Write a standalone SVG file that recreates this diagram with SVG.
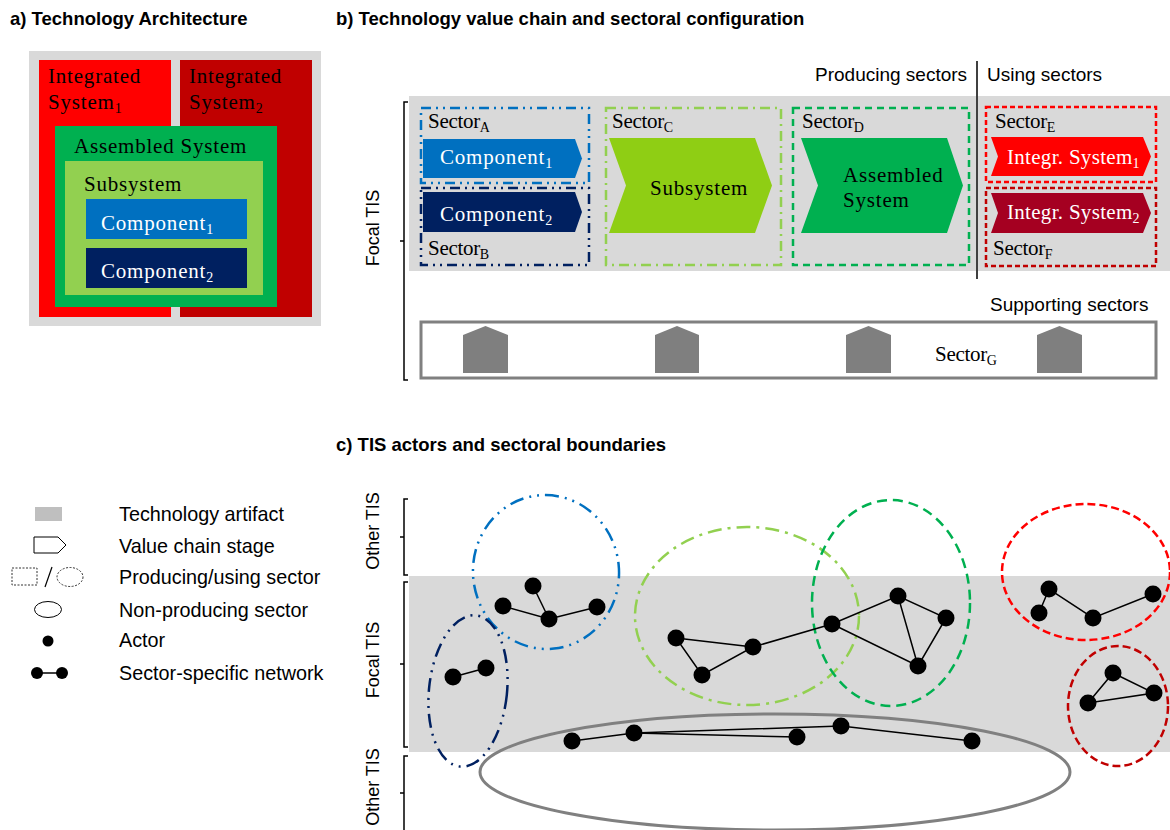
<svg xmlns="http://www.w3.org/2000/svg" width="1170" height="830" viewBox="0 0 1170 830">
<style>
.title{font-family:"Liberation Sans",Arial,sans-serif;font-weight:bold;font-size:18.5px;fill:#000}
.sans{font-family:"Liberation Sans",Arial,sans-serif;font-size:19px;fill:#000}
.leg{font-size:19.8px}
.vt{font-size:18px}
.serif{font-family:"Liberation Serif","Times New Roman",serif;font-size:21px;fill:#000;letter-spacing:0.8px}
.sec{letter-spacing:-0.3px}
.w{fill:#fff}
.sub{font-size:14px;letter-spacing:0}
.brk{fill:none;stroke:#000;stroke-width:1.5}
.edge{stroke:#000;stroke-width:1.5;fill:none}
.actor{fill:#000}
.house{fill:#7f7f7f}
</style>
<rect width="1170" height="830" fill="#fff"/>

<!-- Panel a -->
<g id="panel-a">
<text class="title" x="10" y="25">a) Technology Architecture</text>
<rect x="29" y="51" width="292" height="275" fill="#d9d9d9"/>
<g id="integrated-system-1"><rect x="39" y="60" width="132" height="257" fill="#ff0000"/>
<text class="serif" x="48" y="83">Integrated</text>
<text class="serif" x="48" y="109">System<tspan class="sub" dy="4">1</tspan></text></g>
<g id="integrated-system-2"><rect x="180" y="60" width="132" height="257" fill="#c00000"/>
<text class="serif" x="189" y="83">Integrated</text>
<text class="serif" x="189" y="109">System<tspan class="sub" dy="4">2</tspan></text></g>
<g id="assembled-system"><rect x="55" y="126" width="222" height="181" fill="#00b050"/>
<text class="serif" x="74" y="153">Assembled System</text></g>
<g id="subsystem"><rect x="65" y="161" width="198" height="134" fill="#92d050"/>
<text class="serif" x="84" y="191">Subsystem</text></g>
<g id="component-1"><rect x="86" y="199" width="161" height="40" fill="#0070c0"/>
<text class="serif w" x="101" y="230">Component<tspan class="sub" dy="4">1</tspan></text></g>
<g id="component-2"><rect x="86" y="248" width="161" height="40" fill="#002060"/>
<text class="serif w" x="101" y="278">Component<tspan class="sub" dy="4">2</tspan></text></g>
</g>

<!-- Panel b -->
<g id="panel-b">
<text class="title" x="336" y="25">b) Technology value chain and sectoral configuration</text>
<rect x="409" y="96" width="761" height="175" fill="#d9d9d9"/>
<path class="brk" d="M408,102 H404 V380 H408 M404,241 H400"/>
<text class="sans vt" transform="translate(379,228) rotate(-90)" text-anchor="middle">Focal TIS</text>
<text class="sans" x="815" y="81">Producing sectors</text>
<text class="sans" x="987" y="81">Using sectors</text>
<line x1="977" y1="61" x2="977" y2="279" stroke="#404040" stroke-width="2"/>

<g id="sector-a"><rect x="421" y="108" width="168" height="75" fill="none" stroke="#0070c0" stroke-width="2.5" stroke-dasharray="10 5 2 5 2 5"/>
<text class="serif sec" x="428" y="128">Sector<tspan class="sub" dy="4">A</tspan></text></g>
<g id="sector-b"><rect x="421" y="188" width="168" height="77" fill="none" stroke="#002060" stroke-width="2.5" stroke-dasharray="10 5 2 5 2 5"/>
<text class="serif sec" x="428" y="255">Sector<tspan class="sub" dy="4">B</tspan></text></g>
<g id="stage-component-1"><polygon points="423,139 575,139 582,158.5 575,178 423,178" fill="#0070c0"/>
<text class="serif w" x="440" y="164">Component<tspan class="sub" dy="4">1</tspan></text></g>
<g id="stage-component-2"><polygon points="423,192 575,192 582,212 575,232 423,232" fill="#002060"/>
<text class="serif w" x="440" y="221">Component<tspan class="sub" dy="4">2</tspan></text></g>

<g id="sector-c"><rect x="606" y="108" width="175" height="157" fill="none" stroke="#92d050" stroke-width="2.5" stroke-dasharray="10 5 2 5"/>
<text class="serif sec" x="612" y="128">Sector<tspan class="sub" dy="4">C</tspan></text></g>
<g id="stage-subsystem"><polygon points="609,138 755,138 772,185.5 755,233 609,233 626,185.5" fill="#8fce14"/>
<text class="serif" x="650" y="195">Subsystem</text></g>

<g id="sector-d"><rect x="793" y="108" width="176" height="157" fill="none" stroke="#00b050" stroke-width="2.5" stroke-dasharray="7 5"/>
<text class="serif sec" x="802" y="128">Sector<tspan class="sub" dy="4">D</tspan></text></g>
<g id="stage-assembled"><polygon points="801,138 947,138 963,185.5 947,233 801,233 818,185.5" fill="#00b050"/>
<text class="serif" x="843" y="182">Assembled</text>
<text class="serif" x="843" y="207">System</text></g>

<g id="sector-e"><rect x="986" y="107" width="170" height="75" fill="none" stroke="#ff0000" stroke-width="2.5" stroke-dasharray="5 3"/>
<text class="serif sec" x="995" y="128">Sector<tspan class="sub" dy="4">E</tspan></text></g>
<g id="stage-is1"><polygon points="991,137 1143,137 1151,156.5 1143,176 991,176 998,156.5" fill="#ff0000"/>
<text class="serif w" x="1007" y="164" style="letter-spacing:0.3px">Integr. System<tspan class="sub" dy="4">1</tspan></text></g>
<g id="sector-f"><rect x="986" y="188" width="170" height="78" fill="none" stroke="#c00000" stroke-width="2.5" stroke-dasharray="5 3"/>
<text class="serif sec" x="993" y="255">Sector<tspan class="sub" dy="4">F</tspan></text></g>
<g id="stage-is2"><polygon points="991,193 1143,193 1151,213 1143,233 991,233 998,213" fill="#a50021"/>
<text class="serif w" x="1007" y="219" style="letter-spacing:0.3px">Integr. System<tspan class="sub" dy="4">2</tspan></text></g>

<text class="sans" x="990" y="311">Supporting sectors</text>
<g id="sector-g"><rect x="421" y="322" width="735" height="56" fill="#fff" stroke="#808080" stroke-width="3"/>
<path class="house" d="M463,373 V335 L485.5,326 L508,335 V373 Z"/>
<path class="house" d="M655,373 V335 L677,326 L699,335 V373 Z"/>
<path class="house" d="M846,373 V335 L868.5,326 L891,335 V373 Z"/>
<path class="house" d="M1037,373 V335 L1059.5,326 L1082,335 V373 Z"/>
<text class="serif sec" x="935" y="361">Sector<tspan class="sub" dy="4">G</tspan></text></g>
</g>

<!-- Legend -->
<g id="legend">
<rect x="35" y="507" width="27" height="14" fill="#bfbfbf"/>
<text class="sans leg" x="119" y="521">Technology artifact</text>
<polygon points="34,537 58,537 66,545 58,553 34,553" fill="#fff" stroke="#000" stroke-width="1"/>
<text class="sans leg" x="119" y="553">Value chain stage</text>
<rect x="12" y="568" width="25" height="17" fill="none" stroke="#333" stroke-width="1" stroke-dasharray="2 1.5"/>
<line x1="45" y1="587" x2="52" y2="567" stroke="#000" stroke-width="1.2"/>
<ellipse cx="70" cy="577" rx="13" ry="9.5" fill="none" stroke="#333" stroke-width="1" stroke-dasharray="2 1.5"/>
<text class="sans leg" x="119" y="584">Producing/using sector</text>
<ellipse cx="48" cy="609.5" rx="13.5" ry="8" fill="none" stroke="#000" stroke-width="1"/>
<text class="sans leg" x="119" y="617">Non-producing sector</text>
<circle cx="48" cy="641" r="5.5" class="actor"/>
<text class="sans leg" x="119" y="647">Actor</text>
<line x1="37" y1="673" x2="62" y2="673" class="edge"/>
<circle cx="37" cy="673" r="6" class="actor"/>
<circle cx="62" cy="673" r="6" class="actor"/>
<text class="sans leg" x="119" y="680">Sector-specific network</text>
</g>

<!-- Panel c -->
<g id="panel-c">
<text class="title" x="336" y="451">c) TIS actors and sectoral boundaries</text>
<rect x="409" y="576" width="761" height="176" fill="#d9d9d9"/>
<path class="brk" d="M408,499 H404 V575 H408 M404,537 H400"/>
<path class="brk" d="M408,582 H404 V747 H408 M404,664 H400"/>
<path class="brk" d="M408,756 H404 V830 M404,793 H400"/>
<text class="sans vt" transform="translate(379,531) rotate(-90)" text-anchor="middle">Other TIS</text>
<text class="sans vt" transform="translate(379,660) rotate(-90)" text-anchor="middle">Focal TIS</text>
<text class="sans vt" transform="translate(379,787) rotate(-90)" text-anchor="middle">Other TIS</text>

<g id="sector-boundaries">
<ellipse id="sec-a" cx="546" cy="572" rx="73" ry="77" transform="rotate(-6 546 572)" fill="none" stroke="#0070c0" stroke-width="2.5" stroke-dasharray="14 6 2 6 2 6"/>
<ellipse id="sec-b" cx="468" cy="691" rx="39" ry="76" transform="rotate(6 468 691)" fill="none" stroke="#002060" stroke-width="2.5" stroke-dasharray="14 6 2 6 2 6"/>
<ellipse id="sec-c" cx="747" cy="616" rx="112" ry="89" fill="none" stroke="#92d050" stroke-width="2.5" stroke-dasharray="14 6 3 6"/>
<ellipse id="sec-d" cx="891" cy="603" rx="79" ry="103" fill="none" stroke="#00b050" stroke-width="2.5" stroke-dasharray="10 6"/>
<ellipse id="sec-e" cx="1086" cy="572" rx="84" ry="68" fill="none" stroke="#ff0000" stroke-width="2.5" stroke-dasharray="8 4"/>
<ellipse id="sec-f" cx="1118" cy="706" rx="50" ry="60" fill="none" stroke="#c00000" stroke-width="2.5" stroke-dasharray="8 4"/>
<ellipse id="sec-g" cx="775" cy="772" rx="295" ry="58" fill="none" stroke="#808080" stroke-width="3"/>
</g>

<g id="networks">
<path class="edge" d="M503,606 L549,619 L597,607 M533,586 L549,619"/>
<path class="edge" d="M453,677 L486,668"/>
<path class="edge" d="M676,638 L753,647 L702,675 Z M753,647 L832,624 L898,596 L946,618 L918,666 L832,624 M898,596 L918,666"/>
<path class="edge" d="M1039,613 L1049,589 L1093,618 L1153,594"/>
<path class="edge" d="M1113,673 L1154,693 L1088,703 Z"/>
<path class="edge" d="M572,741 L634,733 L841,726 L972,741 M634,733 L797,737"/>
</g>

<g id="actors">
<circle class="actor" cx="533" cy="586" r="8.5"/>
<circle class="actor" cx="503" cy="606" r="8.5"/>
<circle class="actor" cx="549" cy="619" r="8.5"/>
<circle class="actor" cx="597" cy="607" r="8.5"/>
<circle class="actor" cx="453" cy="677" r="8.5"/>
<circle class="actor" cx="486" cy="668" r="8.5"/>
<circle class="actor" cx="676" cy="638" r="8.5"/>
<circle class="actor" cx="702" cy="675" r="8.5"/>
<circle class="actor" cx="753" cy="647" r="8.5"/>
<circle class="actor" cx="832" cy="624" r="8.5"/>
<circle class="actor" cx="898" cy="596" r="8.5"/>
<circle class="actor" cx="946" cy="618" r="8.5"/>
<circle class="actor" cx="918" cy="666" r="8.5"/>
<circle class="actor" cx="1049" cy="589" r="8.5"/>
<circle class="actor" cx="1039" cy="613" r="8.5"/>
<circle class="actor" cx="1093" cy="618" r="8.5"/>
<circle class="actor" cx="1153" cy="594" r="8.5"/>
<circle class="actor" cx="1113" cy="673" r="8.5"/>
<circle class="actor" cx="1154" cy="693" r="8.5"/>
<circle class="actor" cx="1088" cy="703" r="8.5"/>
<circle class="actor" cx="572" cy="741" r="8.5"/>
<circle class="actor" cx="634" cy="733" r="8.5"/>
<circle class="actor" cx="797" cy="737" r="8.5"/>
<circle class="actor" cx="841" cy="726" r="8.5"/>
<circle class="actor" cx="972" cy="741" r="8.5"/>
</g>
</g>
</svg>
